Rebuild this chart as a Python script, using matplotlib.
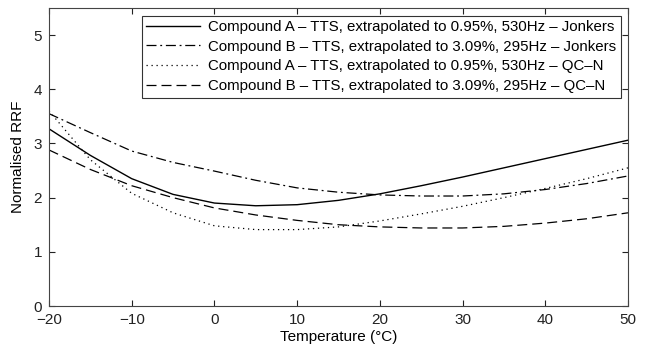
import numpy as np
import matplotlib
matplotlib.use("Agg")
import matplotlib.pyplot as plt

plt.rcParams['font.family'] = ['Liberation Sans', 'DejaVu Sans']

temps = [-20, -15, -10, -5, 0, 5, 10, 15, 20, 25, 30, 35, 40, 45, 50]
a_jonkers = [3.27, 2.78, 2.35, 2.06, 1.90, 1.85, 1.87, 1.95, 2.07, 2.22, 2.38, 2.55, 2.72, 2.89, 3.06]
b_jonkers = [3.55, 3.20, 2.86, 2.65, 2.49, 2.32, 2.18, 2.10, 2.05, 2.03, 2.03, 2.07, 2.15, 2.26, 2.40]
a_qcn = [3.60, 2.70, 2.08, 1.72, 1.48, 1.41, 1.41, 1.46, 1.57, 1.70, 1.84, 2.00, 2.17, 2.35, 2.55]
b_qcn = [2.88, 2.52, 2.22, 2.00, 1.81, 1.68, 1.58, 1.50, 1.46, 1.44, 1.44, 1.47, 1.53, 1.61, 1.72]

labels = [
    'Compound A \u2013 TTS, extrapolated to 0.95%, 530Hz \u2013 Jonkers',
    'Compound B \u2013 TTS, extrapolated to 3.09%, 295Hz \u2013 Jonkers',
    'Compound A \u2013 TTS, extrapolated to 0.95%, 530Hz \u2013 QC\u2013N',
    'Compound B \u2013 TTS, extrapolated to 3.09%, 295Hz \u2013 QC\u2013N',
]

fig = plt.figure(figsize=(6.47, 3.46), dpi=100)
ax = fig.add_axes([49/647, 1-306/346, (628-49)/647, (306-8)/346])

ax.plot(temps, a_jonkers, color='k', lw=1.0, ls='-', label=labels[0])
ax.plot(temps, b_jonkers, color='k', lw=0.9, ls=(0, (8, 3, 1.5, 3)), label=labels[1])
ax.plot(temps, a_qcn, color='k', lw=0.9, ls=(0, (1, 3)), label=labels[2])
ax.plot(temps, b_qcn, color='k', lw=0.9, ls=(0, (8, 4)), label=labels[3])

ax.set_xlim(-20, 50)
ax.set_ylim(0, 5.5)
ax.set_xticks(range(-20, 51, 10))
ax.set_yticks(range(0, 6))
ax.set_xticklabels(['\u221220', '\u221210', '0', '10', '20', '30', '40', '50'])
ax.tick_params(direction='in', top=True, right=True, labelsize=11, length=4, colors='#222222')
ax.tick_params(axis='y', pad=5)
ax.tick_params(axis='x', pad=5)
for s in ax.spines.values():
    s.set_color('#444444')
    s.set_linewidth(0.8)
ax.set_xlabel('Temperature (\u00b0C)', fontsize=11, labelpad=2)
ax.set_ylabel('Normalised RRF', fontsize=11, labelpad=6)

leg = ax.legend(loc='upper right', fontsize=10.8, frameon=True, fancybox=False,
                edgecolor='k', handlelength=3.6, borderaxespad=0.5,
                labelspacing=0.38, borderpad=0.3, handletextpad=0.5)
leg.get_frame().set_linewidth(0.8)

fig.savefig('out.png', dpi=100)
